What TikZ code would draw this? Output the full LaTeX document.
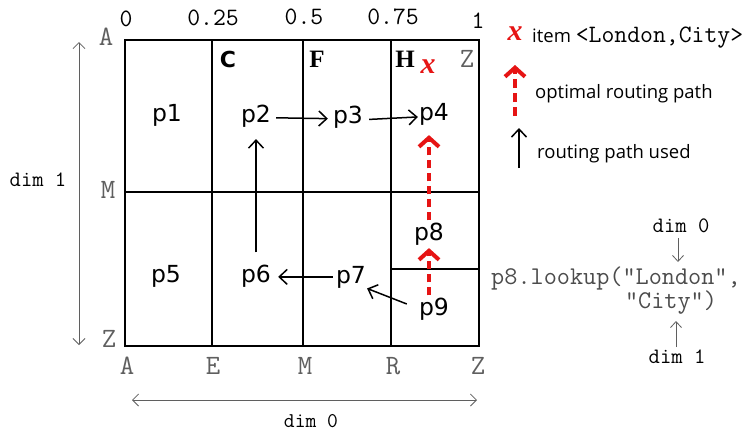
\documentclass[tikz,border=0pt]{standalone}
\usepackage{fontspec}
\setmainfont{Liberation Serif}
\newfontfamily\pfont{DejaVu Sans}
\newfontfamily\cfont{DejaVu Sans}
\newfontfamily\legfont{Open Sans}
\usetikzlibrary{arrows.meta}
\definecolor{labgray}{RGB}{95,95,95}
\definecolor{optred}{RGB}{230,20,20}
\begin{document}
\begin{tikzpicture}[x=1pt,y=-1pt,
  cellline/.style={line width=2.2pt},
  pnode/.style={font=\pfont\fontsize{23.5}{23.5}\selectfont, inner sep=0pt, anchor=base},
  axlab/.style={font=\ttfamily\fontsize{28}{28}\selectfont, text=labgray, inner sep=0pt},
  numlab/.style={font=\ttfamily\fontsize{25}{25}\selectfont\addfontfeature{LetterSpace=18}, inner sep=0pt},
  collab/.style={font=\rmfamily\bfseries\fontsize{25}{25}\selectfont, inner sep=0pt},
  dimlab/.style={font=\ttfamily\fontsize{22}{22}\selectfont, inner sep=0pt},
  codelab/.style={font=\ttfamily\fontsize{25.5}{25.5}\selectfont, text=labgray!80!black, inner sep=0pt},
  leglab/.style={font=\legfont\fontsize{18.5}{18.5}\selectfont, inner sep=0pt, anchor=west},
  itemx/.style={font=\bfseries\itshape\fontsize{30}{30}\selectfont, text=optred, inner sep=0pt},
  used/.style={line width=1.5pt, -{Straight Barb[length=8pt,width=15pt,line width=1.5pt]}},
  optimal/.style={optred, line width=4pt, dash pattern=on 8pt off 5pt,
     -{Straight Barb[length=9pt,width=20pt,line width=4pt]}},
  dimarrow/.style={labgray, line width=0.8pt,
     {Straight Barb[length=6pt,width=12pt,line width=0.8pt]}-{Straight Barb[length=6pt,width=12pt,line width=0.8pt]}},
  smallarrow/.style={labgray, line width=0.8pt, -{Straight Barb[length=6pt,width=11pt,line width=0.8pt]}},
]
\useasboundingbox[fill=white] (0,0) rectangle (750,434);

% grid
\draw[cellline] (125,40) rectangle (479,346);
\draw[cellline] (212,40) -- (212,346);
\draw[cellline] (303,40) -- (303,346);
\draw[cellline] (391,40) -- (391,346);
\draw[cellline] (125,192) -- (479,192);
\draw[cellline] (391,269) -- (479,269);

% top numbers
\node[numlab] (n0) at (126,19) {0};
\node[numlab] (n25) at (213,18) {0.25};
\node[numlab] (n5) at (304,17) {0.5};
\node[numlab] (n75) at (393,17) {0.75};
\node[numlab] (n1) at (478,21) {1};

% axis letters
\node[axlab] (lA) at (106,37) {A};
\node[axlab] (lM) at (108,190) {M};
\node[axlab] (lZ) at (109,339) {Z};
\node[axlab] (bA) at (127,366) {A};
\node[axlab] (bE) at (213,366) {E};
\node[axlab] (bM) at (305,366) {M};
\node[axlab] (bR) at (393,366) {R};
\node[axlab] (bZ) at (478,366) {Z};
\node[axlab] (tZ) at (467,59) {Z};

% column letters
\node[font=\cfont\bfseries\fontsize{22}{22}\selectfont, inner sep=0pt] (cC) at (228,59) {C};
\node[collab] (cF) at (317,59) {F};
\node[collab] (cH) at (405,59) {H};
\node[itemx] (x1) at (428,67) {x};

% cells
\node[pnode] (p1) at (167,121) {p1};
\node[pnode] (p2) at (256,122) {p2};
\node[pnode] (p3) at (348,123) {p3};
\node[pnode] (p4) at (434,120) {p4};
\node[pnode] (p5) at (166,282) {p5};
\node[pnode] (p6) at (256,282) {p6};
\node[pnode] (p7) at (351,283) {p7};
\node[pnode] (p8) at (429,240) {p8};
\node[pnode] (p9) at (434,315) {p9};

% used routing path
\draw[used, shorten <=5pt, shorten >=5pt] ([yshift=-2pt]p2.east) -- ([yshift=-2pt]p3.west);
\draw[used, shorten <=6pt, shorten >=1pt] ([yshift=-3pt]p3.east) -- ([yshift=-3pt]p4.west);
\draw[used, shorten <=12pt, shorten >=12pt] (p6.north) -- (p2.south -| p6.north);
\draw[used, shorten <=3pt, shorten >=7pt] (p7.west) -- (p7.west -| p6.east);
\draw[used, shorten <=13pt, shorten >=1pt] (p9.west) -- (p7.south east);

% optimal path
\draw[optimal, shorten <=2pt, shorten >=3pt] (p8.south |- p9.north) -- (p8.south);
\draw[optimal, shorten <=2pt, shorten >=10pt] (p8.north) -- (p8.north |- p4.south);

% dimension arrows
\coordinate (d1top) at (79,42);
\coordinate (d1bot) at (79,345);
\coordinate (d0left) at (132,400);
\coordinate (d0right) at (477,400);
\draw[dimarrow] (d1top) -- (d1bot);
\draw[dimarrow] (d0left) -- (d0right);
\node[dimlab] (dim1) at (38,180) {dim 1};
\node[dimlab, font=\ttfamily\fontsize{21}{21}\selectfont] (dim0) at (311,421) {dim 0};

% legend
\node[itemx] (x2) at (515,34) {x};
\node[leglab] (item) at (532,38) {item {\ttfamily\fontsize{25}{25}\selectfont <London,City>}};
\coordinate (optTail) at (515,116);
\coordinate (optTip) at (515,65);
\draw[optimal, dash pattern=on 9pt off 5pt] (optTail) -- (optTip);
\node[leglab] (optlab) at (535,94) {optimal routing path};
\coordinate (usedTail) at (519,168);
\coordinate (usedTip) at (519,128);
\draw[used] (usedTail) -- (usedTip);
\node[leglab] (usedlab) at (537,154) {routing path used};

% lookup
\node[dimlab] (rdim0) at (681,226) {dim 0};
\node[codelab] (look1) at (616,278) {p8.lookup("London",};
\node[codelab] (look2) at (671,303) {"City")};
\node[dimlab] (rdim1) at (677,357) {dim 1};
\coordinate (dn1) at (678,238);
\coordinate (dn2) at (678,262);
\draw[smallarrow] (dn1) -- (dn2);
\coordinate (up1) at (676,347);
\coordinate (up2) at (676,321);
\draw[smallarrow] (up1) -- (up2);
\end{tikzpicture}
\end{document}
